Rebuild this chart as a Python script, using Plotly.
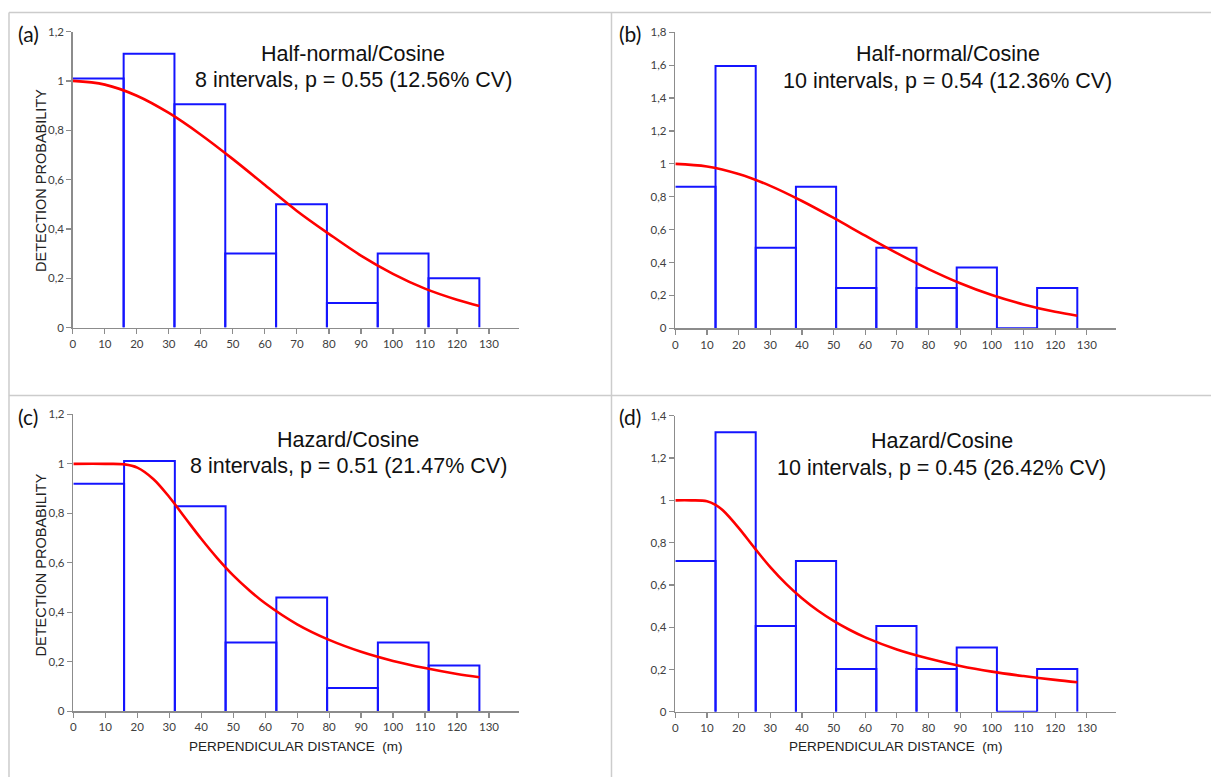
import plotly.graph_objects as go

# ---------------- data ----------------
edges_8 = [0, 15.875, 31.75, 47.625, 63.5, 79.375, 95.25, 111.125, 127]
edges_10 = [0, 12.7, 25.4, 38.1, 50.8, 63.5, 76.2, 88.9, 101.6, 114.3, 127]

hist_a = [1.01, 1.11, 0.905, 0.30, 0.50, 0.10, 0.30, 0.20]
hist_b = [0.86, 1.595, 0.49, 0.86, 0.245, 0.49, 0.245, 0.37, 0.0, 0.245]
hist_c = [0.92, 1.012, 0.829, 0.277, 0.46, 0.093, 0.277, 0.184]
hist_d = [0.713, 1.322, 0.406, 0.713, 0.202, 0.406, 0.202, 0.304, 0.0, 0.202]

curve_x_hn = [0, 10, 20, 30, 40, 50, 60, 70, 80, 90, 100, 110, 120, 127]
curve_a = [1, 0.985, 0.94, 0.87, 0.782, 0.683, 0.578, 0.473, 0.38, 0.292, 0.218, 0.158, 0.113, 0.088]
curve_b = [1, 0.984, 0.938, 0.866, 0.774, 0.671, 0.563, 0.457, 0.36, 0.274, 0.202, 0.145, 0.10, 0.076]

curve_x_c = [0, 10, 16, 20, 25, 30, 35, 40, 45, 50, 55, 60, 70, 80, 90, 100, 110, 120, 127]
curve_c = [1, 1, 0.998, 0.985, 0.939, 0.866, 0.781, 0.697, 0.619, 0.549, 0.489, 0.436, 0.351,
           0.288, 0.24, 0.203, 0.174, 0.15, 0.137]

curve_x_d = [0, 5, 10, 12.7, 15, 20, 25, 30, 35, 40, 45, 50, 55, 60, 70, 80, 90, 100, 110, 120, 127]
curve_d = [1, 1, 0.996, 0.979, 0.953, 0.87, 0.775, 0.684, 0.605, 0.537, 0.479, 0.43, 0.388, 0.352,
           0.295, 0.252, 0.217, 0.19, 0.169, 0.151, 0.14]

panel_labels = ["(a)", "(b)", "(c)", "(d)"]
model_names = ["Half-normal/Cosine", "Half-normal/Cosine", "Hazard/Cosine", "Hazard/Cosine"]
fit_texts = ["8 intervals, p = 0.55 (12.56% CV)", "10 intervals, p = 0.54 (12.36% CV)",
             "8 intervals, p = 0.51 (21.47% CV)", "10 intervals, p = 0.45 (26.42% CV)"]
y_maxes = [1.2, 1.8, 1.2, 1.4]
y_title = "DETECTION PROBABILITY"
x_title = "PERPENDICULAR DISTANCE  (m)"

# ---------------- layout helpers ----------------
W, H = 1211, 783


def px(x):
    return x / W


def py(y):
    return 1 - y / H


# plot boxes in pixels: (left, right, top, bottom)
boxes = [(70, 517, 25, 326), (674, 1116, 25.7, 326.7),
         (70.5, 517, 414.3, 716), (674, 1116, 415.7, 716.7)]

panels = [
    (edges_8, hist_a, curve_x_hn, curve_a),
    (edges_10, hist_b, curve_x_hn, curve_b),
    (edges_8, hist_c, curve_x_c, curve_c),
    (edges_10, hist_d, curve_x_d, curve_d),
]

fig = go.Figure()
BLUE = "#1414ff"
RED = "#ff0000"
AXC = "#8c8c8c"
TICKC = "#404040"
TICKFONT = dict(family="Lato, Open Sans, sans-serif", size=11.5, color=TICKC)

for i, (edges, hist, cx, cy) in enumerate(panels):
    n = i + 1
    xa = "x" if n == 1 else f"x{n}"
    ya = "y" if n == 1 else f"y{n}"
    # open-bottom box outline for every bin (first bin's left side lies on the y axis)
    ox, oy = [], []
    for k, h in enumerate(hist):
        l, r = edges[k], edges[k + 1]
        if k == 0:
            ox += [l, r, r, None]
            oy += [h, h, 0, None]
        else:
            ox += [l, l, r, r, None]
            oy += [0, h, h, 0, None]
    fig.add_trace(go.Scatter(x=ox, y=oy, mode="lines", line=dict(color=BLUE, width=2),
                             xaxis=xa, yaxis=ya, showlegend=False, hoverinfo="skip",
                             connectgaps=False))
    fig.add_trace(go.Scatter(x=cx, y=cy, mode="lines", line=dict(color=RED, width=2.6, shape="spline"),
                             xaxis=xa, yaxis=ya, showlegend=False, hoverinfo="skip"))
    l, r, t, b = boxes[i]
    xkey = "xaxis" if n == 1 else f"xaxis{n}"
    ykey = "yaxis" if n == 1 else f"yaxis{n}"
    fig.update_layout(**{
        xkey: dict(domain=[px(l), px(r)], anchor=ya, range=[0, 139.3], tick0=0, dtick=10,
                   showline=True, linecolor=AXC, linewidth=1.5, ticks="outside", ticklen=5,
                   tickcolor=AXC, tickwidth=1.2, showgrid=False, zeroline=False,
                   tickfont=TICKFONT, fixedrange=True),
        ykey: dict(domain=[py(b), py(t)], anchor=xa, range=[0, y_maxes[i]], tick0=0, dtick=0.2,
                   showline=True, linecolor=AXC, linewidth=1.5, ticks="outside", ticklen=5,
                   tickcolor=AXC, tickwidth=1.2, showgrid=False, zeroline=False,
                   tickfont=TICKFONT, fixedrange=True),
    })

annotations = []
label_pos = [(26, 27), (629, 27), (25, 416), (629, 416)]
text_centers = [(351, 47.5, 74.5), (947, 48, 75), (346, 440, 467), (941, 441.5, 469)]
for i in range(4):
    lx, ly = label_pos[i]
    annotations.append(dict(x=px(lx), y=py(ly), xref="paper", yref="paper", text=panel_labels[i],
                            showarrow=False, xanchor="center", yanchor="middle",
                            font=dict(family="Lato, Open Sans, sans-serif", size=21, color="#111111")))
    cxp, y1, y2 = text_centers[i]
    annotations.append(dict(x=px(cxp), y=py(y1), xref="paper", yref="paper", text=model_names[i],
                            showarrow=False, xanchor="center", yanchor="middle",
                            font=dict(family="Liberation Sans, Arial, sans-serif", size=21.5, color="#111111")))
    annotations.append(dict(x=px(cxp), y=py(y2), xref="paper", yref="paper", text=fit_texts[i],
                            showarrow=False, xanchor="center", yanchor="middle",
                            font=dict(family="Liberation Sans, Arial, sans-serif", size=21.5, color="#111111")))

# axis titles (left panels: y title; bottom panels: x title)
for (yx, yy) in [(38, 176), (38, 567)]:
    annotations.append(dict(x=px(yx), y=py(yy), xref="paper", yref="paper", text=y_title, textangle=-90,
                            showarrow=False, xanchor="center", yanchor="middle",
                            font=dict(family="Liberation Sans, Arial, sans-serif", size=14.5, color="#222222")))
for (tx, ty) in [(294, 752), (895, 752)]:
    annotations.append(dict(x=px(tx), y=py(ty), xref="paper", yref="paper", text=x_title,
                            showarrow=False, xanchor="center", yanchor="middle",
                            font=dict(family="Liberation Sans, Arial, sans-serif", size=13.5, color="#222222")))

FRAME = "#cccccc"
shapes = [
    dict(type="line", xref="paper", yref="paper", x0=px(6), x1=1, y0=py(5.5), y1=py(5.5),
         line=dict(color=FRAME, width=1.5)),
    dict(type="line", xref="paper", yref="paper", x0=px(6), x1=px(6), y0=0, y1=py(5.5),
         line=dict(color=FRAME, width=1.5)),
    dict(type="line", xref="paper", yref="paper", x0=px(610), x1=px(610), y0=0, y1=py(5.5),
         line=dict(color=FRAME, width=1.5)),
    dict(type="line", xref="paper", yref="paper", x0=px(6), x1=1, y0=py(395), y1=py(395),
         line=dict(color=FRAME, width=1.5)),
]

fig.update_layout(width=W, height=H, margin=dict(l=0, r=0, t=0, b=0),
                  paper_bgcolor="white", plot_bgcolor="white",
                  separators=",.", annotations=annotations, shapes=shapes, showlegend=False)

fig.write_html("out.html", config={"displayModeBar": False, "staticPlot": True},
               post_script="document.body.style.margin='0';document.body.style.overflow='hidden';")
